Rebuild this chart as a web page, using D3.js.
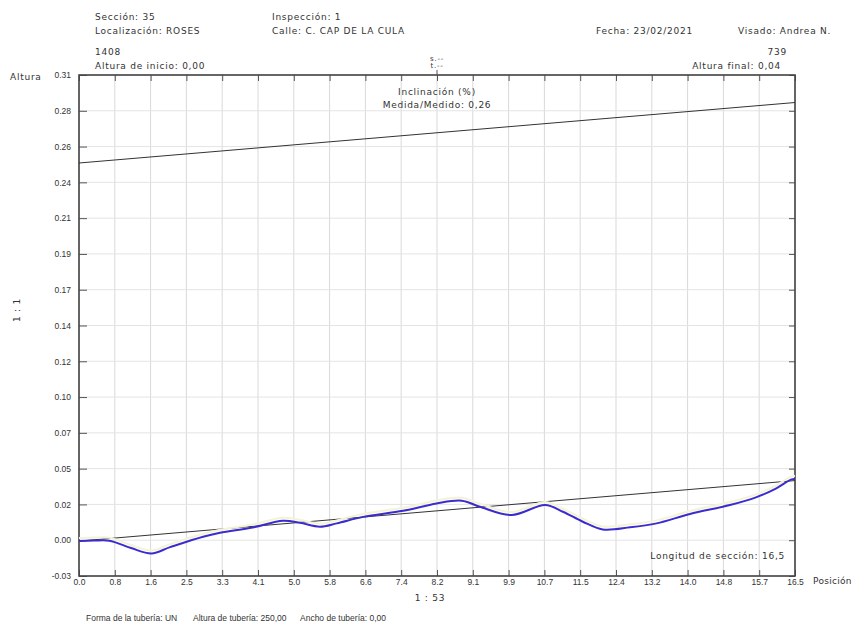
<!DOCTYPE html>
<html><head><meta charset="utf-8">
<script src="https://cdn.jsdelivr.net/npm/d3@7"></script>
<style>
body{margin:0;background:#fff;}
text{font-family:"DejaVu Sans",Verdana,sans-serif;fill:#333;font-size:9px;letter-spacing:0.75px;}
</style></head>
<body><svg id="c" width="856" height="633"></svg>
<script>
// ---- data ----
const xTickLabels = ["0.0","0.8","1.6","2.5","3.3","4.1","5.0","5.8","6.6","7.4","8.2","9.1","9.9","10.7","11.5","12.4","13.2","14.0","14.8","15.7","16.5"];
const yTickLabels = ["-0.03","0.00","0.02","0.05","0.07","0.10","0.12","0.14","0.17","0.19","0.21","0.24","0.26","0.28","0.31"];
const xDomain = [0, 16.5];
const yDomain = [-0.0231, 0.3082];
const profileX = [0, 0.35, 0.7, 1.2, 1.67, 2.1, 2.86, 3.25, 4.0, 4.7, 5.09, 5.55, 5.94, 6.55, 7.47, 8.24, 8.82, 9.24, 9.97, 10.74, 11.15, 11.61, 12.07, 12.7, 13.31, 14.08, 15.0, 15.6, 16.07, 16.42, 16.5];
const profileY = [0, 0.0003, 0.0002, -0.0046, -0.0082, -0.004, 0.0029, 0.0055, 0.009, 0.0134, 0.0121, 0.0095, 0.0117, 0.016, 0.020, 0.0249, 0.0267, 0.0227, 0.0172, 0.0238, 0.0194, 0.0128, 0.0077, 0.0091, 0.0117, 0.0179, 0.0238, 0.0289, 0.0349, 0.0408, 0.041];
const pipeBottom = [[0, 0.00], [16.5, 0.04]];
const pipeHeight = 0.25;

// ---- layout ----
const L = 79, R = 795, T = 75, B = 576;
const svg = d3.select("#c");
const x = d3.scaleLinear().domain(xDomain).range([L, R]);
const y = d3.scaleLinear().domain(yDomain).range([B, T]);
const xTicks = d3.range(xTickLabels.length).map(i => xDomain[0] + i*(xDomain[1]-xDomain[0])/(xTickLabels.length-1));
const yTicks = d3.range(yTickLabels.length).map(i => yDomain[0] + i*(yDomain[1]-yDomain[0])/(yTickLabels.length-1));

// grid
const g = svg.append("g");
g.selectAll(".vg").data(xTicks).join("line")
  .attr("x1", d => x(d)).attr("x2", d => x(d)).attr("y1", T).attr("y2", B)
  .attr("stroke", "#d9d9d9").attr("stroke-width", 1);
g.selectAll(".hg").data(yTicks).join("line")
  .attr("x1", L).attr("x2", R).attr("y1", d => y(d)).attr("y2", d => y(d))
  .attr("stroke", "#e4e4e4").attr("stroke-width", 1);

// axes (ticks inward)
const xb = svg.append("g").attr("transform", `translate(0,${B})`)
  .call(d3.axisBottom(x).tickValues(xTicks).tickSizeInner(-6).tickSizeOuter(0).tickPadding(3).tickFormat((d,i)=>xTickLabels[i]));
const xt = svg.append("g").attr("transform", `translate(0,${T})`)
  .call(d3.axisTop(x).tickValues(xTicks).tickSizeInner(-6).tickSizeOuter(0).tickFormat(""));
const yl = svg.append("g").attr("transform", `translate(${L},0)`)
  .call(d3.axisLeft(y).tickValues(yTicks).tickSizeInner(-8).tickSizeOuter(0).tickPadding(8).tickFormat((d,i)=>yTickLabels[i]));
const yr = svg.append("g").attr("transform", `translate(${R},0)`)
  .call(d3.axisRight(y).tickValues(yTicks).tickSizeInner(-6).tickSizeOuter(0).tickFormat(""));
[xb, xt, yl, yr].forEach(a => {
  a.select(".domain").remove();
  a.selectAll(".tick line").attr("stroke", "#555");
  a.selectAll("text").attr("fill", "#333").style("font-size", "8.5px")
    .style("letter-spacing", "0px").style("font-family", "Liberation Sans, Arial, sans-serif");
});
// frame
svg.append("rect").attr("x", L).attr("y", T).attr("width", R-L).attr("height", B-T)
  .attr("fill", "none").attr("stroke", "#444").attr("stroke-width", 1.6);

// pipe lines
const line = d3.line().x(d => x(d[0])).y(d => y(d[1]));
svg.append("path").datum(pipeBottom).attr("d", line).attr("fill", "none").attr("stroke", "#333").attr("stroke-width", 1);
svg.append("path").datum(pipeBottom.map(d => [d[0], d[1] + pipeHeight])).attr("d", line)
  .attr("fill", "none").attr("stroke", "#333").attr("stroke-width", 1);

// profile
const prof = profileX.map((v, i) => [v, profileY[i]]);
const curve = d3.line().x(d => x(d[0])).y(d => y(d[1])).curve(d3.curveCatmullRom);
svg.append("path").datum(prof).attr("d", curve).attr("fill", "none")
  .attr("stroke", "#f5f3d6").attr("stroke-width", 2).attr("transform", "translate(0,-3)");
svg.append("path").datum(prof).attr("d", curve).attr("fill", "none")
  .attr("stroke", "#3a2ccf").attr("stroke-width", 2);

// texts
function t(xx, yy, s, anchor, size) {
  return svg.append("text").attr("x", xx).attr("y", yy).attr("text-anchor", anchor || "start")
    .style("font-size", (size || 9) + "px").text(s);
}
t(95, 20, "Sección: 35");
t(95, 34, "Localización: ROSES");
t(272, 20, "Inspección: 1");
t(272, 34, "Calle: C. CAP DE LA CULA");
t(596, 34, "Fecha: 23/02/2021");
t(738, 34, "Visado: Andrea N.");
t(95, 55, "1408");
t(95, 69, "Altura de inicio: 0,00");
t(787, 55, "739", "end");
t(781, 69, "Altura final: 0,04", "end");
t(437, 61, "s.--", "middle", 7);
t(437, 68, "t.--", "middle", 7);
svg.append("line").attr("x1", x(8.25)).attr("x2", x(8.25)).attr("y1", 70).attr("y2", T).attr("stroke", "#555");
t(437, 95, "Inclinación (%)", "middle");
t(437, 108, "Medida/Medido: 0,26", "middle");
t(10, 80, "Altura");
t(813, 584, "Posición").style("letter-spacing", "0.3px");
t(430, 601, "1 : 53", "middle");
t(785, 559, "Longitud de sección: 16,5", "end");
const foot = [[86, "Forma de la tubería:  UN"], [193, "Altura de tubería:  250,00"], [300, "Ancho de tubería:  0,00"]];
foot.forEach(f => t(f[0], 621, f[1], "start", 8.5).style("font-family", "Liberation Sans, Arial, sans-serif").style("letter-spacing", "0px"));
svg.append("text").attr("transform", "translate(20,310) rotate(-90)").attr("text-anchor", "middle").text("1 : 1");
</script></body></html>
